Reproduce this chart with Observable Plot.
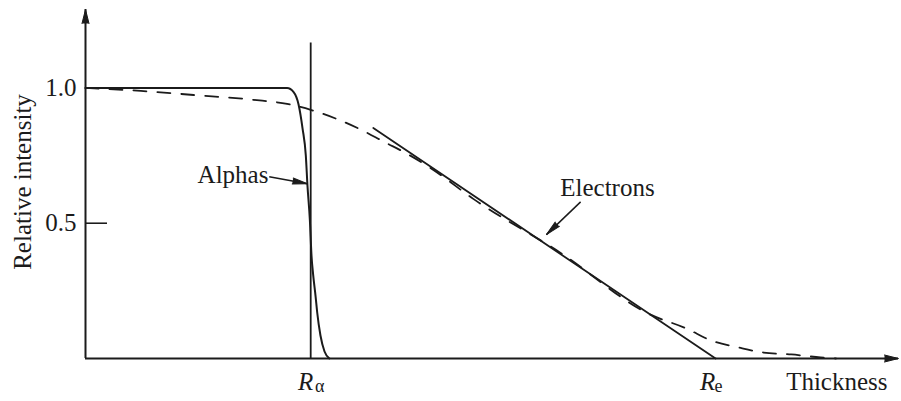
<!DOCTYPE html>
<html>
<head>
<meta charset="utf-8">
<script src="https://cdn.jsdelivr.net/npm/d3@7"></script>
<script src="https://cdn.jsdelivr.net/npm/@observablehq/plot@0.6"></script>
<style>
  body { margin: 0; background: #fff; }
  svg { display: block; }
</style>
</head>
<body>
<div id="chart"></div>
<script>
// Transmitted intensity vs absorber thickness (arbitrary thickness units)
const alphaThickness = [0, 1.2, 2.48, 2.56, 2.62, 2.67, 2.71, 2.73, 2.76, 2.78, 2.80, 2.83, 2.85, 2.89, 2.94, 3.0];
const alphaIntensity = [1, 1, 1, 0.985, 0.94, 0.85, 0.75, 0.64, 0.51, 0.38, 0.31, 0.23, 0.17, 0.085, 0.026, 0];

const electronThickness = [0, 0.68, 1.33, 2.07, 2.48, 2.77, 3.42, 3.67, 3.96, 4.24, 4.77, 5.84, 6.95, 7.39, 7.70, 8.03, 8.34, 8.68, 9.04, 9.23];
const electronIntensity = [1.0, 0.989, 0.974, 0.956, 0.941, 0.919, 0.841, 0.801, 0.756, 0.705, 0.590, 0.391, 0.162, 0.111, 0.066, 0.041, 0.022, 0.015, 0.004, 0];

// Linear extrapolation of the electron curve down to the range R_e
const electronFitThickness = [3.54, 7.75];
const electronFitIntensity = [0.852, 0];

const rangeAlpha = 2.77;
const rangeElectron = 7.75;

const yTicks = [0.5, 1.0];
const yTickLabels = ["0.5", "1.0"];

// Curve labels with their pointer arrows
const labelNames = ["Alphas", "Electrons"];
const labelX = [2.25, 6.42];
const labelY = [0.679, 0.631];
const labelAnchor = ["end", "middle"];
const pointerFromX = [2.26, 6.09];
const pointerFromY = [0.672, 0.579];
const pointerToX = [2.73, 5.67];
const pointerToY = [0.646, 0.458];

// Layout
const W = 901, H = 401;
const margin = {top: 9, right: 3, bottom: 43, left: 85};
const xDomain = [0, 10];
const yDomain = [0, 1.29];
const ink = "#1b1b1b";
const serif = "'Liberation Serif', 'Times New Roman', serif";
const fontSize = 25;

const toPoints = (xs, ys) => xs.map((x, i) => ({x, y: ys[i]}));
const alpha = toPoints(alphaThickness, alphaIntensity);
const electrons = toPoints(electronThickness, electronIntensity);
const electronFit = toPoints(electronFitThickness, electronFitIntensity);
const ticks = yTicks.map((y, i) => ({y, label: yTickLabels[i]}));
const labels = labelNames.map((name, i) => ({name, x: labelX[i], y: labelY[i], anchor: labelAnchor[i]}));

// pixels per data unit, used to orient arrowheads along their shafts
const kx = (W - margin.left - margin.right) / (xDomain[1] - xDomain[0]);
const ky = (H - margin.top - margin.bottom) / (yDomain[1] - yDomain[0]);
const pointers = labelNames.map((name, i) => {
  const p = {x1: pointerFromX[i], y1: pointerFromY[i], x2: pointerToX[i], y2: pointerToY[i]};
  p.rotate = Math.atan2((p.x2 - p.x1) * kx, (p.y2 - p.y1) * ky) * 180 / Math.PI;
  return p;
});
const tickLength = 22 / kx;

const chart = Plot.plot({
  width: W,
  height: H,
  marginTop: margin.top,
  marginRight: margin.right,
  marginBottom: margin.bottom,
  marginLeft: margin.left,
  x: {domain: xDomain, axis: null},
  y: {domain: yDomain, axis: null},
  style: {fontFamily: serif, background: "#fff", color: ink},
  marks: [
    // axes with arrowheads
    Plot.ruleX([0], {y1: 0, y2: yDomain[1], stroke: ink, strokeWidth: 2}),
    Plot.ruleY([0], {x1: 0, x2: xDomain[1], stroke: ink, strokeWidth: 2}),
    Plot.vector([{x: 0, y: yDomain[1]}], {x: "x", y: "y", rotate: 0, length: 14, r: 3.5, shape: "spike", anchor: "end", fill: ink, fillOpacity: 1, stroke: ink, strokeWidth: 1}),
    Plot.vector([{x: xDomain[1], y: 0}], {x: "x", y: "y", rotate: 90, length: 14, r: 3.5, shape: "spike", anchor: "end", fill: ink, fillOpacity: 1, stroke: ink, strokeWidth: 1}),

    // y ticks and labels
    Plot.ruleY(ticks, {y: "y", x1: 0, x2: tickLength, stroke: ink, strokeWidth: 1.6}),
    Plot.text(ticks, {x: 0, y: "y", text: "label", textAnchor: "end", dx: -9, fontSize, fill: ink}),
    Plot.text(["Relative intensity"], {frameAnchor: "left", textAnchor: "middle", dx: -63, dy: -2, rotate: -90, fontSize, fill: ink}),

    // alpha range marker
    Plot.ruleX([rangeAlpha], {y1: 0, y2: 1.166, stroke: ink, strokeWidth: 1.8}),

    // curves
    Plot.line(electrons, {x: "x", y: "y", curve: "monotone-x", stroke: ink, strokeWidth: 1.8, strokeDasharray: "13,11"}),
    Plot.line(electronFit, {x: "x", y: "y", stroke: ink, strokeWidth: 1.8}),
    Plot.line(alpha, {x: "x", y: "y", curve: "monotone-x", stroke: ink, strokeWidth: 2}),

    // curve labels with pointers
    Plot.link(pointers, {x1: "x1", y1: "y1", x2: "x2", y2: "y2", stroke: ink, strokeWidth: 1.5}),
    Plot.vector(pointers, {x: "x2", y: "y2", rotate: "rotate", length: 15, r: 3, shape: "spike", anchor: "end", fill: ink, fillOpacity: 1, stroke: ink, strokeWidth: 1}),
    Plot.text(labels.filter(d => d.anchor === "end"), {x: "x", y: "y", text: "name", textAnchor: "end", fontSize, fill: ink}),
    Plot.text(labels.filter(d => d.anchor === "middle"), {x: "x", y: "y", text: "name", textAnchor: "middle", fontSize, fill: ink}),

    // x-axis annotations
    Plot.text([rangeAlpha], {x: d => d, y: 0, text: () => "R", fontStyle: "italic", dx: -5, dy: 23, fontSize, fill: ink}),
    Plot.text([rangeAlpha], {x: d => d, y: 0, text: () => "\u03b1", dx: 9, dy: 28, fontSize: 18, fill: ink}),
    Plot.text([rangeElectron], {x: d => d, y: 0, text: () => "R", fontStyle: "italic", dx: -8, dy: 23, fontSize, fill: ink}),
    Plot.text([rangeElectron], {x: d => d, y: 0, text: () => "e", dx: 3, dy: 28, fontSize: 18, fill: ink}),
    Plot.text(["Thickness"], {x: xDomain[1], y: 0, textAnchor: "end", dx: -11, dy: 23, fontSize, fill: ink})
  ]
});
document.getElementById("chart").append(chart);
</script>
</body>
</html>
